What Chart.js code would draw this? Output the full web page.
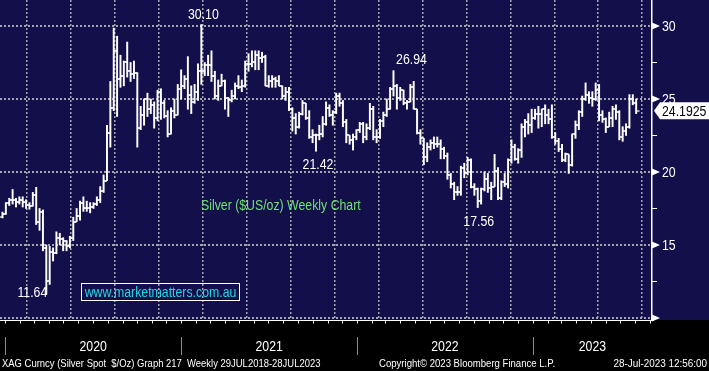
<!DOCTYPE html>
<html>
<head>
<meta charset="utf-8">
<script src="https://cdn.jsdelivr.net/npm/chart.js@4.4.0/dist/chart.umd.min.js"></script>
<style>
html,body{margin:0;padding:0;background:#000;}
#wrap{width:709px;height:371px;}
</style>
</head>
<body>
<div id="wrap"><canvas id="c" width="709" height="371"></canvas></div>
<script>
// XAG weekly bars, week ending 20 Dec 2019 .. 28 Jul 2023 (one entry per week)
const opens = [16.90,17.15,17.85,18.05,18.05,17.95,18.05,17.95,17.75,17.70,18.45,16.60,17.25,14.80,12.50,14.50,14.45,15.50,15.40,15.25,
14.95,15.50,16.60,17.00,17.90,17.50,17.50,17.60,17.80,18.10,18.70,19.40,22.70,24.40,28.30,26.40,26.60,27.50,26.90,26.70,
26.80,23.00,23.90,25.00,24.30,24.60,23.70,25.50,24.70,23.80,22.60,24.20,23.90,25.70,25.90,26.40,25.30,24.80,25.50,26.90,
26.90,27.30,27.30,26.60,25.20,25.90,26.20,25.10,24.90,25.20,25.90,25.80,25.90,27.40,27.40,27.50,28.00,27.80,27.90,25.90,
26.20,26.40,26.20,25.90,25.20,25.50,24.30,23.70,23.10,24.00,24.70,23.70,22.40,22.50,22.50,22.60,23.30,24.40,23.90,24.10,
25.20,24.70,23.40,22.50,22.20,22.40,22.90,23.30,22.40,23.00,24.30,22.40,22.40,23.50,23.90,24.30,25.70,25.90,25.10,25.60,
24.70,24.80,25.80,24.30,22.70,22.30,21.00,21.70,22.00,21.90,21.90,21.60,21.10,19.80,19.20,18.60,18.60,20.30,19.90,20.80,
19.00,18.80,18.00,18.80,19.50,18.90,19.00,20.10,18.20,19.30,19.20,20.80,21.70,20.90,21.50,23.10,23.40,23.20,23.70,24.00,
24.00,24.30,23.90,23.60,22.40,22.10,21.60,20.80,21.20,20.50,22.60,23.20,24.10,25.00,25.30,25.10,25.00,25.60,23.90,23.60,
23.10,23.70,24.30,24.10,22.40,22.80,23.10,25.00,24.70];
const highs = [17.25,17.90,18.20,18.80,18.20,18.30,18.30,18.10,17.90,18.60,18.95,17.50,17.40,15.00,14.90,14.80,15.90,15.80,15.50,15.30,
15.60,16.90,17.50,18.00,18.30,18.00,17.90,17.90,18.30,19.00,19.80,23.20,26.20,29.86,29.30,28.00,27.60,28.90,27.50,27.60,
26.80,24.50,25.00,25.40,25.00,24.80,25.60,25.70,24.90,24.20,24.40,25.00,26.00,27.00,26.60,27.90,25.90,26.00,27.40,30.10,
27.50,28.00,28.30,26.90,26.30,26.70,26.30,25.10,25.60,26.10,26.60,26.30,27.60,28.10,28.30,28.30,28.30,28.20,28.00,26.60,
26.60,26.50,26.60,25.90,25.80,25.80,24.40,24.00,24.10,24.90,24.70,24.20,22.90,22.60,23.20,23.80,24.80,24.60,24.20,25.40,
25.40,24.90,23.60,22.50,22.60,22.90,23.40,23.40,23.30,24.70,24.50,22.90,23.60,24.10,25.00,25.80,26.94,26.00,25.80,25.60,
24.90,26.00,26.20,24.30,22.90,22.30,22.00,22.20,22.40,22.40,22.20,21.70,21.30,19.90,19.30,19.00,20.40,20.60,21.00,20.90,
19.20,18.90,18.90,20.00,19.90,19.30,21.20,20.30,19.40,19.90,20.90,22.20,21.90,21.60,23.30,23.60,24.00,24.30,24.30,24.50,
24.30,24.60,24.30,24.60,22.70,22.30,21.90,21.30,21.20,22.60,23.50,24.20,25.20,26.10,25.50,25.50,26.10,26.00,24.20,23.70,
24.10,24.50,24.60,24.20,23.10,23.30,25.30,25.30,25.00];
const lows = [16.85,17.10,17.70,17.80,17.60,17.80,17.60,17.50,17.45,17.65,16.40,16.00,14.60,11.64,12.30,13.90,14.40,15.00,14.60,14.60,
14.80,15.30,16.60,16.70,17.30,17.30,17.20,17.50,17.70,17.90,18.60,19.40,21.70,24.20,23.80,25.80,25.90,26.50,26.20,26.40,
21.70,22.90,23.20,23.80,24.00,23.00,23.50,23.60,23.70,22.40,22.60,23.70,23.90,25.00,25.70,24.30,24.00,24.70,24.90,26.00,
26.60,26.60,26.20,25.00,24.90,25.90,24.30,23.80,24.80,25.00,25.70,25.50,25.80,26.90,27.20,27.00,27.00,27.50,25.90,25.80,
25.80,25.80,25.90,25.00,24.90,24.20,22.80,22.60,23.00,23.90,23.60,22.30,22.00,21.42,22.20,22.40,23.20,23.80,23.20,24.00,
24.50,23.10,22.00,21.90,21.50,22.20,22.70,22.00,22.20,22.90,22.20,22.00,22.30,23.10,23.80,24.30,25.20,24.30,24.90,24.60,
24.30,24.80,24.30,22.60,21.90,20.50,20.70,21.50,21.60,21.70,20.90,20.90,19.50,18.90,18.10,18.40,18.40,19.60,19.80,18.90,
18.40,17.56,17.80,18.70,18.60,18.10,19.00,18.10,18.10,19.00,18.90,20.60,20.80,20.60,21.00,22.40,22.60,22.70,23.60,23.00,
23.10,23.30,23.30,22.30,21.90,21.40,20.70,20.70,19.90,20.40,22.30,22.90,23.80,24.90,24.70,24.50,24.90,23.50,23.40,22.70,
23.10,23.10,23.60,22.20,22.10,22.50,23.00,24.60,24.00];
const closes = [17.15,17.85,18.05,18.05,17.95,18.05,17.95,17.75,17.70,18.45,16.60,17.25,14.80,12.50,14.50,14.45,15.50,15.40,15.25,14.95,
15.50,16.60,17.00,17.90,17.50,17.50,17.60,17.80,18.10,18.70,19.40,22.70,24.40,28.30,26.40,26.60,27.50,26.90,26.70,26.80,
23.00,23.90,25.00,24.30,24.60,23.70,25.50,24.70,23.80,22.60,24.20,23.90,25.70,25.90,26.40,25.30,24.80,25.50,26.90,26.90,
27.30,27.30,26.60,25.20,25.90,26.20,25.10,24.90,25.20,25.90,25.80,25.90,27.40,27.40,27.50,28.00,27.80,27.90,25.90,26.20,
26.40,26.20,25.90,25.20,25.50,24.30,23.70,23.10,24.00,24.70,23.70,22.40,22.50,22.50,22.60,23.30,24.40,23.90,24.10,25.20,
24.70,23.40,22.50,22.20,22.40,22.90,23.30,22.40,23.00,24.30,22.40,22.40,23.50,23.90,24.30,25.70,25.90,25.10,25.60,24.70,
24.80,25.80,24.30,22.70,22.30,21.00,21.70,22.00,21.90,21.90,21.60,21.10,19.80,19.20,18.60,18.60,20.30,19.90,20.80,19.00,
18.80,18.00,18.80,19.50,18.90,19.00,20.10,18.20,19.30,19.20,20.80,21.70,20.90,21.50,23.10,23.40,23.20,23.70,24.00,24.00,
24.30,23.90,23.60,22.40,22.10,21.60,20.80,21.20,20.50,22.60,23.20,24.10,25.00,25.30,25.10,25.00,25.60,23.90,23.60,23.10,
23.70,24.30,24.10,22.40,22.80,23.10,25.00,24.70,24.1925];

const yTicks = [10, 15, 20, 25, 30];
const yMinor = [12.5, 17.5, 22.5, 27.5];
const yearLabels = ['2020', '2021', '2022', '2023'];
const markIdx = [13, 59, 93, 116, 141];
const markText = ['11.64', '30.10', '21.42', '26.94', '17.56'];
const lastPrice = 24.1925;

const FONT = '"Liberation Sans", Arial, sans-serif';
const GRID = '#a4a4b0';

// week index for a calendar date (bars sit on the weekly slots)
const week0 = Date.UTC(2019, 11, 20);
const wpos = (y, m) => (Date.UTC(y, m, 1) - week0) / 6048e5 - 0.95;
const months = [];
for (let y = 2020; y <= 2023; y++) for (let m = 0; m < 12; m++) months.push([y, m]);
const quarterTicks = months.filter(([y, m]) => m % 3 === 0 && !(y === 2020 && m === 0)).map(([y, m]) => wpos(y, m));
const yearStarts = [2020, 2021, 2022, 2023, 2024].map(y => wpos(y, 0));

// bloomberg-ish narrow lettering: squeeze a normal sans horizontally
function narrow(c, txt, x, y, size, align, sx) {
    sx = sx || 0.82;
    c.save();
    c.font = size + 'px ' + FONT;
    c.textBaseline = 'middle';
    c.textAlign = align;
    c.translate(x, y);
    c.scale(sx, 1);
    c.fillText(txt, 0, 0);
    c.restore();
}

const bbg = {
    id: 'bbg',
    beforeDraw(chart) {
        const c = chart.ctx, a = chart.chartArea;
        c.save();
        c.fillStyle = '#120f4a';
        c.fillRect(0, 0, chart.width, a.bottom);
        c.fillStyle = '#000';
        c.fillRect(0, a.bottom, chart.width, chart.height - a.bottom);
        c.restore();
    },
    afterDatasetsDraw(chart) {
        const c = chart.ctx, xs = chart.scales.x, ys = chart.scales.y;
        c.save();
        c.fillStyle = '#fff';
        opens.forEach((o, i) => {
            const x = xs.getPixelForValue(i);
            c.fillRect(x - 3.4, Math.round(ys.getPixelForValue(o)) - 0.6, 3, 1.2);
            c.fillRect(x + 0.4, Math.round(ys.getPixelForValue(closes[i])) - 0.6, 3, 1.2);
        });
        c.restore();
    },
    afterDraw(chart) {
        const c = chart.ctx, a = chart.chartArea, xs = chart.scales.x, ys = chart.scales.y;
        c.save();
        // right axis markers + labels
        c.fillStyle = '#fff';
        c.strokeStyle = '#fff';
        yTicks.forEach(v => {
            const y = Math.round(ys.getPixelForValue(v));
            c.beginPath();
            c.moveTo(a.right, y - 3.5); c.lineTo(a.right + 8, y); c.lineTo(a.right, y + 3.5);
            c.closePath(); c.fill();
            if (v !== 10) narrow(c, String(v), a.right + 10, y + 1, 15, 'left');
        });
        c.lineWidth = 1;
        yMinor.forEach(v => {
            const y = Math.round(ys.getPixelForValue(v)) + 0.5;
            c.beginPath(); c.moveTo(a.right, y); c.lineTo(a.right + 5, y); c.stroke();
        });
        // last price tag
        const ly = ys.getPixelForValue(lastPrice);
        c.beginPath();
        c.moveTo(a.right + 2, ly);
        c.lineTo(a.right + 8, ly - 8.5);
        c.lineTo(chart.width, ly - 8.5);
        c.lineTo(chart.width, ly + 8.5);
        c.lineTo(a.right + 8, ly + 8.5);
        c.closePath(); c.fill();
        c.fillStyle = '#000';
        narrow(c, String(lastPrice), a.right + 10, ly + 1, 15, 'left');

        // high / low call-outs
        const offs = [[-14, -1, 'l'], [2, -10, 'h'], [2, 14, 'l'], [18, -11, 'h'], [1, 14, 'l']];
        c.fillStyle = '#fff';
        markIdx.forEach((i, k) => {
            const [dx, dy, which] = offs[k];
            const v = which === 'h' ? highs[i] : lows[i];
            narrow(c, markText[k], xs.getPixelForValue(i) + dx, ys.getPixelForValue(v) + dy, 15, 'center');
        });

        // chart title + watermark
        c.fillStyle = '#72e072';
        narrow(c, 'Silver ($US/oz) Weekly Chart', 201, 206, 15, 'left');
        c.strokeStyle = '#fff';
        c.lineWidth = 1;
        c.strokeRect(81.5, 283.5, 158, 17);
        c.fillStyle = '#22d8e8';
        narrow(c, 'www.marketmatters.com.au', 160.5, 292.5, 15, 'center');

        // time axis strip
        c.strokeStyle = '#fff';
        c.beginPath(); c.moveTo(0, a.bottom + 0.5); c.lineTo(a.right + 2, a.bottom + 0.5); c.stroke();
        months.forEach(([y, m]) => {
            const x = Math.round(xs.getPixelForValue(wpos(y, m))) + 0.5;
            if (x > a.right) return;
            c.beginPath(); c.moveTo(x, a.bottom); c.lineTo(x, a.bottom + 3.5); c.stroke();
        });
        c.strokeStyle = '#8a8a8a';
        yearStarts.slice(0, 4).forEach(w => {
            const x = Math.round(xs.getPixelForValue(w)) + 0.5;
            c.beginPath(); c.moveTo(x, 337); c.lineTo(x, 355); c.stroke();
        });
        c.fillStyle = '#fff';
        yearLabels.forEach((t, k) => {
            const x0 = xs.getPixelForValue(yearStarts[k]);
            const x1 = Math.min(xs.getPixelForValue(yearStarts[k + 1]), a.right);
            narrow(c, t, (x0 + x1) / 2, 347, 15, 'center');
        });
        narrow(c, 'XAG Curncy (Silver Spot  $/Oz) Graph 217  Weekly 29JUL2018-28JUL2023', 2, 363.5, 11, 'left', 0.86);
        narrow(c, 'Copyright\u00a9 2023 Bloomberg Finance L.P.', 379, 363.5, 11, 'left', 0.87);
        narrow(c, '28-Jul-2023 12:56:00', 707, 363.5, 11, 'right', 0.9);
        c.restore();
    }
};

new Chart(document.getElementById('c'), {
    type: 'bar',
    data: {
        datasets: [{
            data: highs.map((h, i) => ({x: i, y: [lows[i], h]})),
            backgroundColor: '#ffffff',
            borderWidth: 0,
            barThickness: 1.3,
            grouped: false
        }]
    },
    options: {
        responsive: false,
        animation: false,
        devicePixelRatio: 1,
        layout: {padding: 0, autoPadding: false},
        plugins: {legend: {display: false}, tooltip: {enabled: false}},
        scales: {
            x: {
                type: 'linear', min: -0.74, max: 192.7, offset: false,
                afterBuildTicks: s => { s.ticks = quarterTicks.map(v => ({value: v})); },
                afterFit: s => { s.height = 51; s.paddingLeft = 0; s.paddingRight = 0; },
                ticks: {display: false},
                grid: {color: GRID, lineWidth: 1.5, drawTicks: false},
                border: {display: false, dash: [2, 2]}
            },
            y: {
                position: 'right', min: 9.86, max: 31.78,
                afterBuildTicks: s => { s.ticks = yTicks.map(v => ({value: v})); },
                afterFit: s => { s.width = 57; s.paddingTop = 0; s.paddingBottom = 0; },
                ticks: {display: false},
                grid: {color: GRID, lineWidth: 2, drawTicks: false},
                border: {display: true, color: '#fff', width: 1.5, dash: [2, 2]}
            }
        }
    },
    plugins: [bbg]
});
</script>
</body>
</html>
